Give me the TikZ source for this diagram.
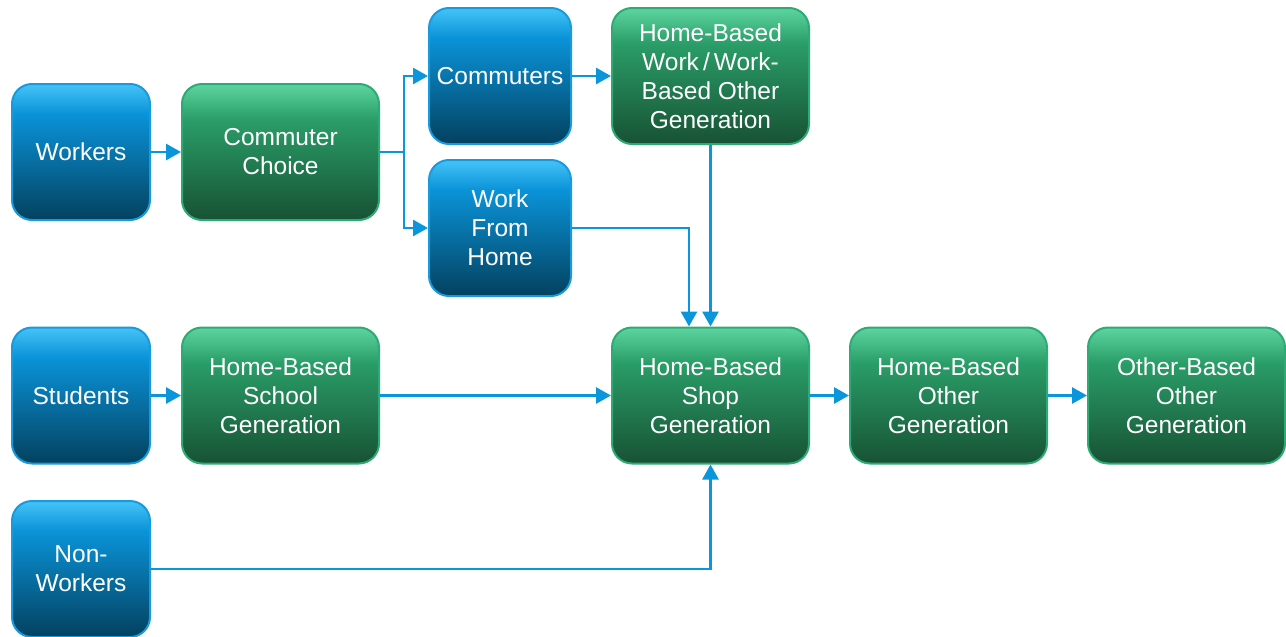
\documentclass[tikz,border=0pt]{standalone}
\usepackage{fontspec}
\setmainfont{Liberation Sans}
\usetikzlibrary{arrows.meta}

\definecolor{bluetop}{HTML}{45C3F8}
\definecolor{bluemid}{HTML}{0A93D8}
\definecolor{bluebot}{HTML}{03415F}
\definecolor{blueedge}{HTML}{1A9ADB}
\definecolor{greentop}{HTML}{5DD5A0}
\definecolor{greenmid}{HTML}{2A9D68}
\definecolor{greenbot}{HTML}{175234}
\definecolor{greenedge}{HTML}{2EAA74}
\definecolor{linkcol}{HTML}{0B96DC}

% the path box spans 25bp (bottom) to 75bp (top)
\pgfdeclareverticalshading{blueshade}{100bp}{color(0bp)=(bluebot); color(25bp)=(bluebot); color(64bp)=(bluemid); color(75bp)=(bluetop); color(100bp)=(bluetop)}
\pgfdeclareverticalshading{greenshade}{100bp}{color(0bp)=(greenbot); color(25bp)=(greenbot); color(62bp)=(greenmid); color(75bp)=(greentop); color(100bp)=(greentop)}

\tikzset{
  box/.style={rounded corners=20pt, line width=2pt, minimum height=136pt,
    inner sep=0pt, align=center, text=white,
    font=\fontsize{24.5}{29}\selectfont},
  bluebox/.style={box, draw=blueedge, shading=blueshade},
  greenbox/.style={box, draw=greenedge, shading=greenshade},
  narrow/.style={minimum width=138pt},
  wide/.style={minimum width=197pt},
  conn/.style={draw=linkcol, line width=2.8pt,
    -{Triangle[length=15pt,width=16pt]}},
  link/.style={draw=linkcol, line width=2.8pt}
}

\begin{document}
\begin{tikzpicture}[x=1pt,y=-1pt]
\useasboundingbox (0,0) rectangle (1286,637);

% population groups
\node[bluebox, narrow] (work) at (81,152) {Workers};
\node[bluebox, narrow] (stu)  at (81,395.5) {Students};
\node[bluebox, narrow] (nw)   at (81,569) {Non-\\Workers};

% commute choice branch
\node[greenbox, wide] (cc) at (280.5,152) {Commuter\\Choice};
\node[bluebox, minimum width=142pt] (comm) at (500,76) {Commuters};
\node[bluebox, minimum width=142pt] (wfh)  at (500,228) {Work\\From\\Home};
\node[greenbox, wide] (hbw) at (710.5,76) {Home-Based\\Work\,/\,Work-\\Based Other\\Generation};

% trip generation chain
\node[greenbox, wide] (sch)  at (280.5,395.5) {Home-Based\\School\\Generation};
\node[greenbox, wide] (shop) at (710.5,395.5) {Home-Based\\Shop\\Generation};
\node[greenbox, wide] (hbo)  at (948.5,395.5) {Home-Based\\Other\\Generation};
\node[greenbox, wide] (obo)  at (1186.5,395.5) {Other-Based\\Other\\Generation};

% connectors
\coordinate (split) at (404,152);
\draw[conn] (work) -- (cc);
\draw[link] (cc.east) -- (split);
\draw[conn] (split) |- (comm.west);
\draw[conn] (split) |- (wfh.west);
\draw[conn] (comm) -- (hbw);
\draw[conn] (hbw.south) -- (shop.north);
\draw[conn] (wfh.east) -| ([xshift=-21.5pt]shop.north);
\draw[conn] (stu) -- (sch);
\draw[conn] (sch) -- (shop);
\draw[conn] (nw.east) -| (shop.south);
\draw[conn] (shop) -- (hbo);
\draw[conn] (hbo) -- (obo);
\end{tikzpicture}
\end{document}
